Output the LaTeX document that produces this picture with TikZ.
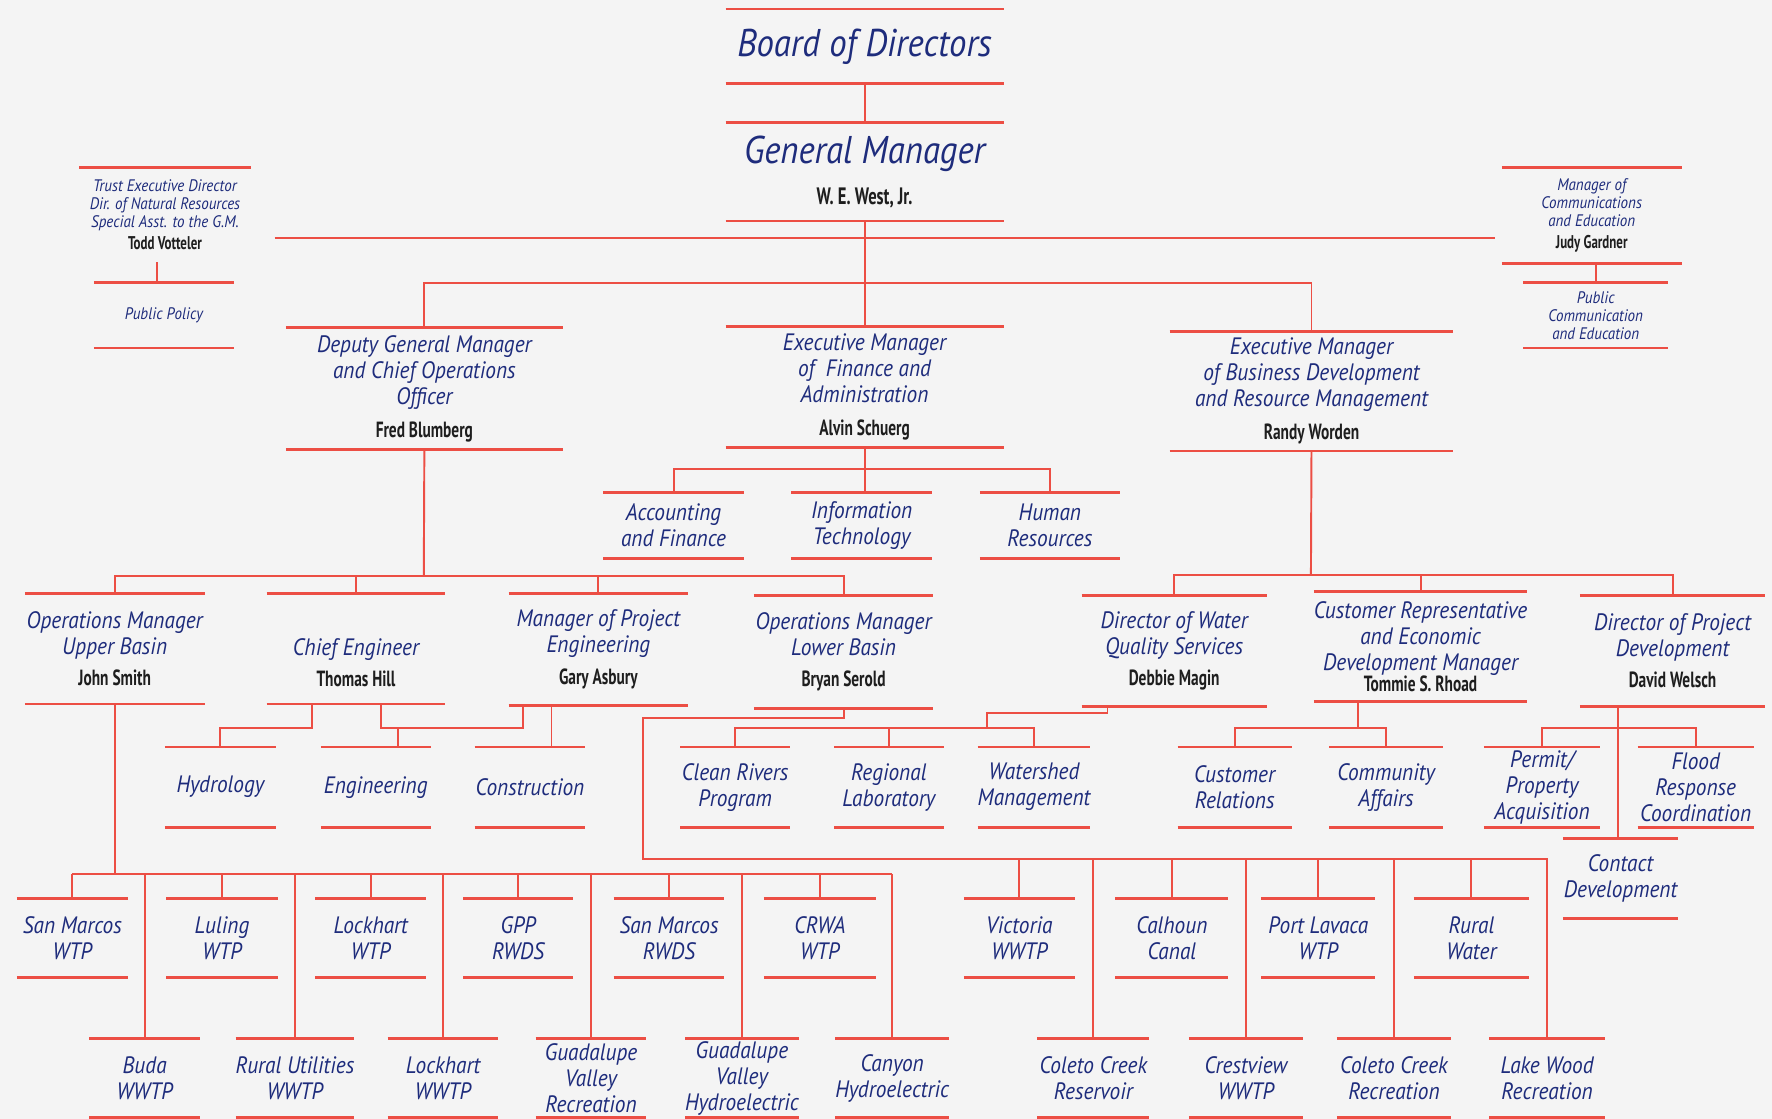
\documentclass[tikz,border=0pt]{standalone}
\usepackage{fontspec}
\usepackage{tikz}
\newfontfamily\chancery[FakeStretch=0.9]{PT Sans}
\newfontfamily\namefont[FakeStretch=0.7]{PT Sans}
\definecolor{rulered}{RGB}{236,78,68}
\definecolor{titleblue}{RGB}{30,44,124}
\definecolor{ink}{RGB}{30,30,30}
\definecolor{paper}{RGB}{244,244,244}
\newcommand\pxu{0.0226cm}
\newcommand\pname[2][12.5]{{\namefont\upshape\bfseries\fontsize{#1}{#1}\selectfont\color{ink}#2}}

\begin{document}
\begin{tikzpicture}[x=0.0226cm, y=-0.0226cm,
		rule/.style={rulered, line width=1.6pt},
		link/.style={rulered, line width=1.1pt},
		unit/.style 2 args={minimum width=#1*\pxu, minimum height=#2*\pxu},
		post/.style={inner sep=0pt, outer sep=0pt, align=center, text=titleblue,
			font=\chancery\itshape\fontsize{13.5}{14.8}\selectfont},
		big/.style={post, font=\chancery\itshape\fontsize{22}{23}\selectfont},
		small/.style={post, font=\chancery\itshape\fontsize{9.5}{10.3}\selectfont}]
		\fill[paper] (0,0) rectangle (1568,990);
		\useasboundingbox (0,0) rectangle (1568,990);

		% top of the chart
		\node[big, unit={246}{66}] (board) at (765,41) {Board of Directors};
		\node[big, unit={246}{87}] (gm) at (765,152) {General Manager\\[0pt]\pname[13.5]{W. E. West, Jr.}};
		\node[small, unit={152}{84}] (trust) at (146,190) {Trust Executive Director\\Dir. of Natural Resources\\Special Asst. to the G.M.\\[2pt]\pname[10.5]{Todd Votteler}};
		\node[small, unit={124}{58}] (policy) at (145,279) {Public Policy};
		\node[small, unit={159}{85}] (comms) at (1408.5,190.5) {Manager of\\Communications\\and Education\\[2pt]\pname[10.5]{Judy Gardner}};
		\node[small, unit={128}{58}] (pubcomm) at (1412,279) {Public\\Communication\\and Education};

		% executive managers
		\node[post, unit={245}{108}] (dgm) at (375.5,344) {Deputy General Manager\\and Chief Operations\\Officer\\[4pt]\pname{Fred Blumberg}};
		\node[post, unit={246}{107}] (fin) at (765,342.5) {Executive Manager\\of\ \ Finance and\\Administration\\[4pt]\pname{Alvin Schuerg}};
		\node[post, unit={251}{106}] (bdev) at (1160.5,346) {Executive Manager\\of Business Development\\and Resource Management\\[4pt]\pname{Randy Worden}};
		\node[post, unit={124}{58}] (acct) at (596,465) {Accounting\\and Finance};
		\node[post, unit={125}{58}] (it) at (762.5,465) {Information\\Technology};
		\node[post, unit={124}{58}] (hr) at (929,465) {Human\\Resources};

		% managers
		\node[post, unit={159}{98}] (ub) at (101.5,574) {Operations Manager\\Upper Basin\\[3pt]\pname{John Smith}};
		\node[post, unit={158}{98}] (ce) at (315,574) {\strut\\Chief Engineer\\[3pt]\pname{Thomas Hill}};
		\node[post, unit={159}{99}] (pe) at (529.5,574.5) {Manager of Project\\Engineering\\[3pt]\pname{Gary Asbury}};
		\node[post, unit={159}{100}] (lb) at (746.5,577) {Operations Manager\\Lower Basin\\[3pt]\pname{Bryan Serold}};
		\node[post, unit={164}{98}] (wq) at (1039,576) {Director of Water\\Quality Services\\[3pt]\pname{Debbie Magin}};
		\node[post, unit={164}{97}] (cr) at (1257,572) {Customer Representative\\and Economic\\Development Manager\\[-3pt]\pname{Tommie S. Rhoad}};
		\node[post, unit={164}{98}] (pd) at (1480,576) {Director of Project\\Development\\[3pt]\pname{David Welsch}};

		% departments
		\foreach \n/\x/\w/\t in {hyd/195/98/Hydrology, eng/332.5/97/Engineering, con/469/98/Construction,
			crp/650.5/97/{Clean Rivers\\Program}, rlab/786.5/97/{Regional\\Laboratory}, wsm/915/96/{Watershed\\Management},
			cust/1092.5/101/{Customer\\Relations}, caff/1226.5/101/{Community\\Affairs},
			permit/1364.5/103/{Permit/\\Property\\Acquisition}, flood/1500.5/103/{Flood\\Response\\Coordination}}
			\node[post, unit={\w}{71}] (\n) at (\x,696.5) {\t};
		\node[post, unit={102}{71}] (contact) at (1434,777.5) {Contact\\Development};

		% plants, upper row
		\foreach \n/\x/\w/\t in {smwtp/64/98/{San Marcos\\WTP}, luling/196.5/99/{Luling\\WTP}, lkwtp/328/98/{Lockhart\\WTP},
			gpp/458.5/97/{GPP\\RWDS}, smrwds/592/98/{San Marcos\\RWDS}, crwa/725.5/99/{CRWA\\WTP},
			vic/902/98/{Victoria\\WWTP}, calhoun/1037/100/{Calhoun\\Canal}, plwtp/1166.5/101/{Port Lavaca\\WTP},
			rwater/1302/102/{Rural\\Water}}
			\node[post, unit={\w}{70}] (\n) at (\x,830) {\t};

		% plants, lower row
		\foreach \n/\x/\w/\t in {buda/128/98/{Buda\\WWTP}, rural/261/98/{Rural Utilities\\WWTP}, lkwwtp/392/98/{Lockhart\\WWTP},
			gvrec/523/98/{Guadalupe\\Valley\\Recreation}, gvhyd/656.5/99/{Guadalupe\\Valley\\Hydroelectric},
			canyon/789.5/97/{Canyon\\Hydroelectric}, ccres/967.5/99/{Coleto Creek\\Reservoir},
			crest/1102.5/101/{Crestview\\WWTP}, ccrec/1233.5/101/{Coleto Creek\\Recreation}, lwrec/1369/102/{Lake Wood\\Recreation}}
			\node[post, unit={\w}{70}] (\n) at (\x,954) {\t};

		% rules above and below each title
		\foreach \n in {board,gm,policy,comms,pubcomm,dgm,fin,bdev,acct,it,hr,ub,ce,pe,lb,wq,cr,pd,
			hyd,eng,con,crp,rlab,wsm,cust,caff,permit,flood,contact,
			smwtp,luling,lkwtp,gpp,smrwds,crwa,vic,calhoun,plwtp,rwater,
			buda,rural,lkwwtp,gvrec,gvhyd,canyon,ccres,crest,ccrec,lwrec}{
			\draw[rule] (\n.north west) -- (\n.north east) (\n.south west) -- (\n.south east);
		}
		\draw[rule] (trust.north west) -- (trust.north east);

		% connectors
		\coordinate (stfL) at (243,211);
		\coordinate (stfR) at (1323,211);
		\coordinate (gmA) at (765,250);
		\coordinate (polA) at (139,250);
		\coordinate (finA) at (765,415);
		\coordinate (dgmA) at (375,510);
		\coordinate (bdA) at (1160,509);
		\coordinate (ceA) at (276,644);
		\coordinate (ceB) at (337,644);
		\coordinate (engA) at (352,644);
		\coordinate (peA) at (463,644);
		\coordinate (peB) at (488,661);
		\coordinate (lbA) at (569,635);
		\coordinate (wqA) at (980,631);
		\coordinate (busWQ) at (873,644);
		\coordinate (crA) at (1202,644);
		\coordinate (pdA) at (1432,644);
		\coordinate (busL) at (0,773);
		\coordinate (busR) at (0,760);

		\draw[link] (board.south) -- (gm.north);
		\draw[link] (gm.south) -- (fin.north);
		\draw[link] (stfL) -- (stfR);
		\draw[link] (dgm.north) |- (gmA) -| (bdev.north);
		\draw[link] (polA |- trust.south) -- (polA);
		\draw[link] (comms.south -| pubcomm.north) -- (pubcomm.north);

		\draw[link] (fin.south) -- (fin.south |- it.north);
		\draw[link] (acct.north) |- (hr.north |- finA) -- (hr.north);

		\draw[link] (dgm.south) -- (dgmA);
		\draw[link] (ub.north) |- (lb.north |- dgmA) -- (lb.north);
		\draw[link] (ce.north) -- (ce.north |- dgmA);
		\draw[link] (pe.north) -- (pe.north |- dgmA);
		\draw[link] (bdev.south) -- (bdA);
		\draw[link] (wq.north) |- (pd.north |- bdA) -- (pd.north);
		\draw[link] (cr.north) -- (cr.north |- bdA);

		\draw[link] (ce.south -| ceA) -- (ceA) -| (hyd.north);
		\draw[link] (ce.south -| ceB) -- (ceB) -- (peA) -- (pe.south -| peA);
		\draw[link] (engA) -- (engA |- eng.north);
		\draw[link] (pe.south -| peB) -- (peB);

		\draw[link] (wq.south -| wqA) -- (wqA) -| (busWQ);
		\draw[link] (crp.north) |- (wsm.north |- busWQ) -- (wsm.north);
		\draw[link] (rlab.north) -- (rlab.north |- busWQ);
		\draw[link] (cr.south -| crA) -- (crA);
		\draw[link] (cust.north) |- (caff.north |- crA) -- (caff.north);
		\draw[link] (pd.south -| pdA) -- (pdA |- contact.north);
		\draw[link] (permit.north) |- (flood.north |- pdA) -- (flood.north);

		\draw[link] (ub.south) -- (ub.south |- busL);
		\draw[link] (smwtp.north |- busL) -- (canyon.north |- busL);
		\foreach \n in {smwtp,luling,lkwtp,gpp,smrwds,crwa,buda,rural,lkwwtp,gvrec,gvhyd,canyon}
			\draw[link] (\n.north) -- (\n.north |- busL);
		\draw[link] (lb.south) |- (lbA) |- (lwrec.north |- busR) -- (lwrec.north);
		\foreach \n in {vic,calhoun,plwtp,rwater,ccres,crest,ccrec}
			\draw[link] (\n.north) -- (\n.north |- busR);
\end{tikzpicture}
\end{document}
